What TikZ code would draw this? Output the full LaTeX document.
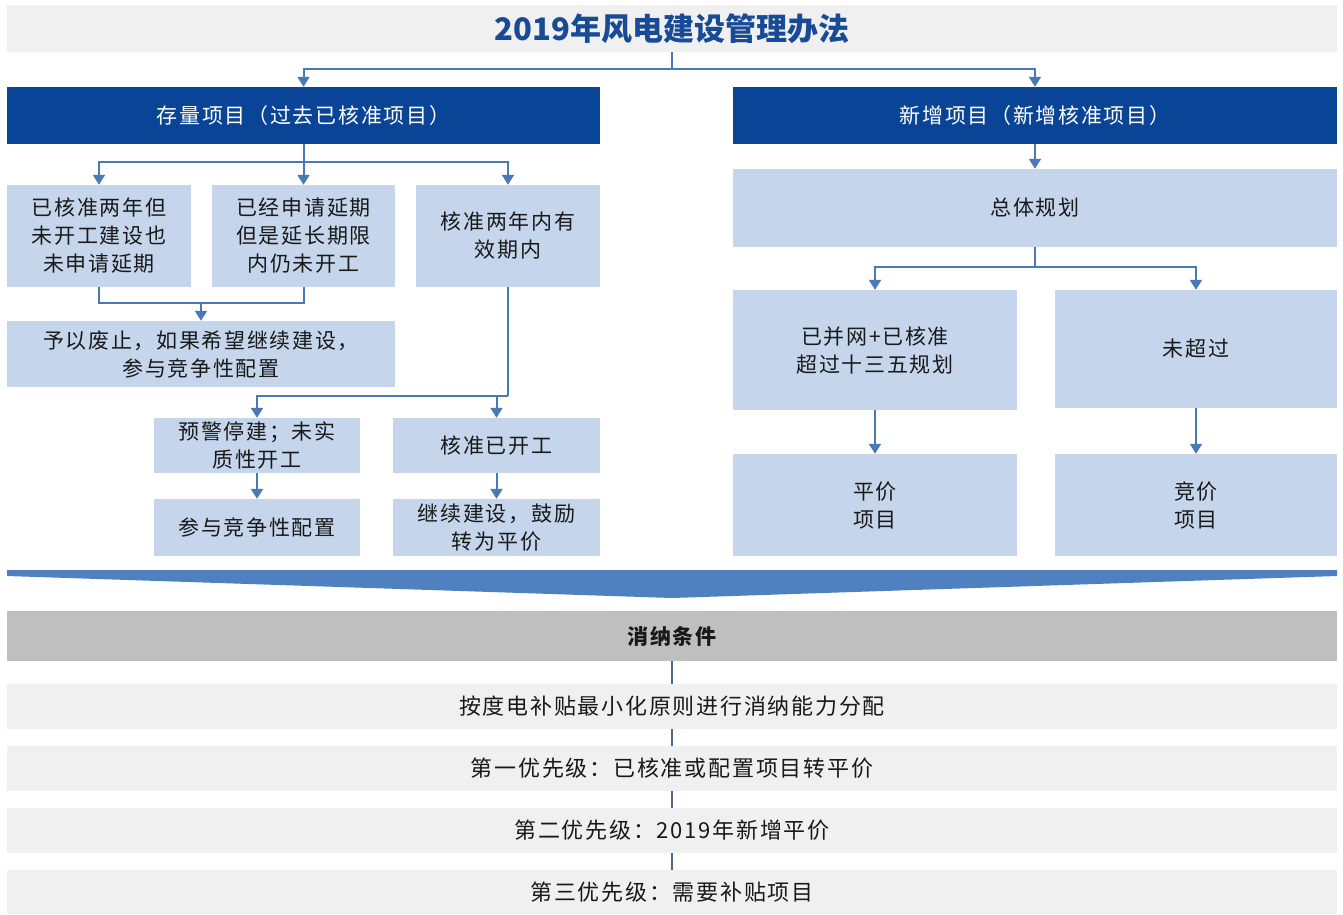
\documentclass[tikz,border=0pt]{standalone}
\usepackage{fontspec}
\setmainfont{Noto Sans CJK SC}[LetterSpace=8]
\newfontfamily\titlefont{Noto Sans CJK SC}
\usetikzlibrary{arrows.meta}
\definecolor{darkblue}{RGB}{10,68,150}
\definecolor{titleblue}{RGB}{24,74,150}
\definecolor{lightblue}{RGB}{197,214,236}
\definecolor{arrowblue}{RGB}{74,122,181}
\definecolor{chevblue}{RGB}{79,129,192}
\definecolor{barggray}{RGB}{191,191,191}
\definecolor{palegray}{RGB}{240,240,240}
\definecolor{vlinecol}{RGB}{80,105,135}
\definecolor{txt}{RGB}{25,25,25}
\tikzset{
  box/.style={rectangle, inner sep=0pt, align=center, text=txt,
    font=\fontsize{21}{28}\selectfont},
  lbox/.style={box, fill=lightblue},
  hbox/.style={box, fill=darkblue, text=white},
  gbox/.style={box, fill=palegray},
  pbox/.style={gbox, font=\fontsize{22}{28}\selectfont},
  ln/.style={draw=arrowblue, line width=2pt},
  arr/.style={ln, -{Triangle[width=12pt,length=10pt]}},
  vl/.style={draw=vlinecol, line width=1.5pt},
}
\begin{document}
\begin{tikzpicture}[x=1pt,y=-1pt]
\useasboundingbox (0,0) rectangle (1343,914);
% title
\node[gbox, minimum width=1330pt, minimum height=47pt, font=\titlefont\fontsize{31}{34}\selectfont\bfseries, text=titleblue] (T) at (672,28.5) {2019年风电建设管理办法};
% headers
\node[hbox, minimum width=593pt, minimum height=57pt] (LH) at (303.5,115.5) {存量项目（过去已核准项目）};
\node[hbox, minimum width=604pt, minimum height=57pt] (RH) at (1035,115.5) {新增项目（新增核准项目）};
% left branch
\node[lbox, minimum width=184pt, minimum height=102pt] (A) at (99,236) {已核准两年但\\未开工建设也\\未申请延期};
\node[lbox, minimum width=183pt, minimum height=102pt] (B) at (303.5,236) {已经申请延期\\但是延长期限\\内仍未开工};
\node[lbox, minimum width=184pt, minimum height=102pt] (C) at (508,236) {核准两年内有\\效期内};
\node[lbox, minimum width=388pt, minimum height=66pt] (D) at (201,354) {予以废止，如果希望继续建设，\\参与竞争性配置};
\node[lbox, minimum width=206pt, minimum height=55pt] (E) at (257,445.5) {预警停建；未实\\质性开工};
\node[lbox, minimum width=207pt, minimum height=55pt] (F) at (496.5,445.5) {核准已开工};
\node[lbox, minimum width=206pt, minimum height=57pt] (G) at (257,527.5) {参与竞争性配置};
\node[lbox, minimum width=207pt, minimum height=57pt] (H) at (496.5,527.5) {继续建设，鼓励\\转为平价};
% right branch
\node[lbox, minimum width=604pt, minimum height=78pt] (I) at (1035,208) {总体规划};
\node[lbox, minimum width=284pt, minimum height=120pt] (J) at (875,350) {已并网+已核准\\超过十三五规划};
\node[lbox, minimum width=282pt, minimum height=118pt] (K) at (1196,349) {未超过};
\node[lbox, minimum width=284pt, minimum height=102pt] (L) at (875,505) {平价\\项目};
\node[lbox, minimum width=282pt, minimum height=102pt] (M) at (1196,505) {竞价\\项目};
% chevron
\fill[chevblue] (7,570) -- (1337,570) -- (1337,576) -- (672,598) -- (7,576) -- cycle;
% bottom
\node[box, fill=barggray, minimum width=1330pt, minimum height=50pt, font=\fontsize{21}{28}\selectfont\bfseries] (N) at (672,636) {消纳条件};
\node[pbox, minimum width=1330pt, minimum height=45pt] (P1) at (672,706.5) {按度电补贴最小化原则进行消纳能力分配};
\node[pbox, minimum width=1330pt, minimum height=45pt] (P2) at (672,768.5) {第一优先级：已核准或配置项目转平价};
\node[pbox, minimum width=1330pt, minimum height=45pt] (P3) at (672,830.5) {第二优先级：2019年新增平价};
\node[pbox, minimum width=1330pt, minimum height=44pt] (P4) at (672,892) {第三优先级：需要补贴项目};
% connectors top
\coordinate (j1) at (672,69);
\draw[ln] (T.south) -- (j1);
\draw[arr] (j1) -| (LH.north);
\draw[arr] (j1) -| (RH.north);
\coordinate (j2) at (303.5,162);
\draw[ln] (LH.south) -- (j2);
\draw[arr] (j2) -| (A.north);
\draw[arr] (j2) -- (B.north);
\draw[arr] (j2) -| (C.north);
\coordinate (j3) at (201,303);
\draw[ln] (A.south) |- (j3) -| (B.south);
\draw[arr] (j3) -- (D.north);
\coordinate (j4) at (508,396);
\draw[ln] (C.south) -- (j4);
\draw[arr] (j4) -| (E.north);
\draw[arr] (j4 -| F.north) -- (F.north);
\draw[arr] (E.south) -- (G.north);
\draw[arr] (F.south) -- (H.north);
\draw[arr] (RH.south) -- (I.north);
\coordinate (j5) at (1035,267);
\draw[ln] (I.south) -- (j5);
\draw[arr] (j5) -| (J.north);
\draw[arr] (j5) -| (K.north);
\draw[arr] (J.south) -- (L.north);
\draw[arr] (K.south) -- (K.south |- M.north);
% bottom connectors
\draw[vl] (N.south) -- (P1.north);
\draw[vl] (P1.south) -- (P2.north);
\draw[vl] (P2.south) -- (P3.north);
\draw[vl] (P3.south) -- (P4.north);
\end{tikzpicture}
\end{document}
